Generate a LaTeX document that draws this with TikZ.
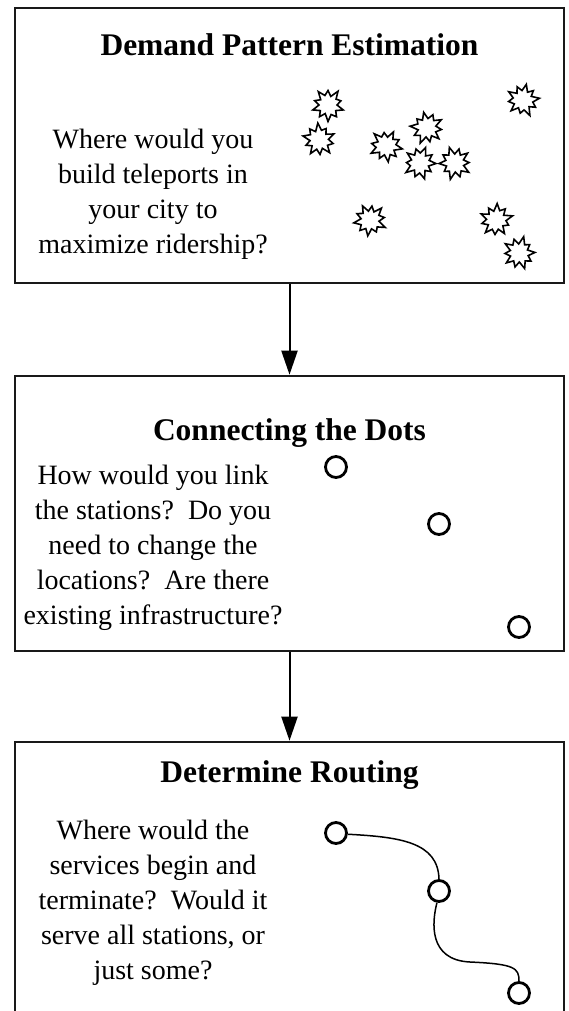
\documentclass[tikz,border=0pt]{standalone}
\usepackage{fontspec}
\setmainfont{Liberation Serif}
\usetikzlibrary{arrows.meta}
\begin{document}
\begin{tikzpicture}[x=1pt,y=-1pt,
  panel/.style={draw=black!90, line width=2.6pt, minimum width=549pt,
    minimum height=275pt, inner sep=0pt},
  heading/.style={font=\bfseries\fontsize{31.5}{36}\selectfont},
  question/.style={align=center, font=\fontsize{28}{35}\selectfont, inner sep=0pt},
  flow/.style={line width=2pt, -{Triangle[length=24pt,width=16pt]}},
  station/.style={circle, draw, line width=2.8pt, minimum size=21pt, inner sep=0pt},
  route/.style={line width=1.5pt},
  boom/.pic={
    \draw[line width=1.6pt, line join=miter, fill=white]
      (90:16.5) -- (108:9) -- (126:14.5) -- (144:9.5) -- (162:16) -- (180:9)
      -- (198:14) -- (216:9) -- (234:16.5) -- (252:10) -- (270:14.5) -- (288:9)
      -- (306:17) -- (324:10) -- (342:13.5) -- (0:9) -- (18:16) -- (36:9.5)
      -- (54:14.5) -- (72:10) -- cycle;
  }
]
\useasboundingbox (0,0) rectangle (569,1011);

% three stage panels
\node[panel] (p1) at (289.5,145.5) {};
\node[panel] (p2) at (289.5,513.5) {};
\node[panel] (p3) at (289.5,879.5) {};

\draw[flow] (p1.south) -- (p2.north);
\draw[flow] (p2.south) -- (p3.north);

% stage 1: demand points
\node[heading] (h1) at (289.5,45) {Demand Pattern Estimation};
\node[question] (q1) at (153,194) {Where would you\\build teleports in\\your city to\\maximize ridership?};
\pic[rotate=0]   (s1)  at (328,105) {boom};
\pic[rotate=40]  (s2)  at (319,140) {boom};
\pic[rotate=80]  (s3)  at (386,146) {boom};
\pic[rotate=120] (s4)  at (427,128) {boom};
\pic[rotate=160] (s5)  at (420,163) {boom};
\pic[rotate=200] (s6)  at (455,163) {boom};
\pic[rotate=240] (s7)  at (523,100) {boom};
\pic[rotate=280] (s8)  at (370,220) {boom};
\pic[rotate=320] (s9)  at (496,220) {boom};
\pic[rotate=20]  (s10) at (519,253) {boom};

% stage 2: stations
\node[heading] (h2) at (289.5,433) {Connecting the Dots};
\node[question] (q2) at (153,548) {How would you link\\the stations?\ \ Do you\\need to change the\\locations?\ \ Are there\\existing infrastructure?};
\node[station] (a1) at (336,467) {};
\node[station] (a2) at (439,524) {};
\node[station] (a3) at (519,627) {};

% stage 3: a route through the stations
\node[heading] (h3) at (289.5,775) {Determine Routing};
\node[question] (q3) at (153,903) {Where would the\\services begin and\\terminate?\ \ Would it\\serve all stations, or\\just some?};
\node[station] (b1) at (336,833) {};
\node[station] (b2) at (439,891) {};
\node[station] (b3) at (519,993) {};
\draw[route] (b1.-6) .. controls (400,837) and (438,842) .. (b2.north);
\draw[route] (b2.-100) .. controls (432,922) and (428,960) .. (470,962)
  .. controls (515,964) and (519,968) .. (b3.north);
\end{tikzpicture}
\end{document}
